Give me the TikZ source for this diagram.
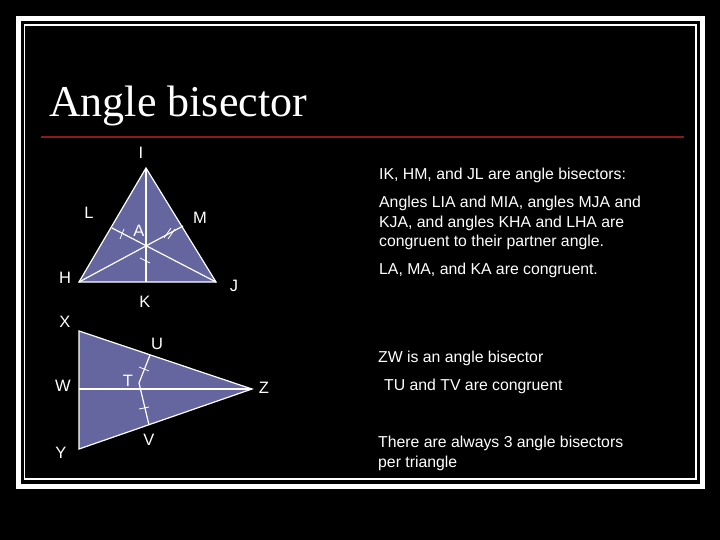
\documentclass[tikz,border=0pt]{standalone}
\usepackage{fontspec}
\setmainfont{Liberation Sans}
\newfontfamily\titlefont{Liberation Serif}
\definecolor{tri}{HTML}{6565A0}
\definecolor{rule}{HTML}{8B1A1A}
\begin{document}
\begin{tikzpicture}[x=1pt,y=-1pt,
  lab/.style={text=white,font=\fontsize{16.5}{16.5}\selectfont,inner sep=0pt},
  txt/.style={text=white,font=\fontsize{15.8}{19.2}\selectfont,inner sep=0pt,anchor=west,align=left},
  edge/.style={draw=white,line width=1.2pt},
  tick/.style={draw=white,line width=0.8pt}]
\fill[black] (0,0) rectangle (720,540);
\useasboundingbox (0,0) rectangle (720,540);
\draw[white,line width=5pt] (18.5,18.5) rectangle (702.5,486);
\draw[white,line width=1.2pt] (24.5,25) rectangle (696,479);
\node[text=white,font=\titlefont\fontsize{44}{44}\selectfont,anchor=base west,inner sep=0pt] (title) at (49,117) {Angle bisector};
\draw[rule,line width=2pt] (41,137) -- (684,137);
% triangle 1
\coordinate (I) at (146,168); \coordinate (H) at (79,282); \coordinate (J) at (216,282);
\coordinate (K) at (146,282); \coordinate (L) at (112,228); \coordinate (M) at (183,226);
\fill[tri] (I) -- (H) -- (J) -- cycle;
\draw[edge] (I) -- (H) -- (J) -- cycle;
\draw[edge] (I) -- (K); \draw[edge] (J) -- (L); \draw[edge] (H) -- (M);
\draw[tick] (120,239) -- (124,229);
\draw[tick] (164,238) -- (171,228); \draw[tick] (168,239) -- (175,229);
\draw[tick] (140,258) -- (150,263);
% triangle 2
\coordinate (X) at (79,331); \coordinate (Y) at (79,449); \coordinate (Z) at (252,389);
\coordinate (W) at (79,389); \coordinate (T) at (139,383); \coordinate (U) at (150,355); \coordinate (V) at (149,425);
\fill[tri] (X) -- (Y) -- (Z) -- cycle;
\draw[edge] (X) -- (Y) -- (Z) -- cycle;
\draw[edge] (W) -- (Z);
\draw[edge] (U) -- (T) -- (V);
\draw[tick] (139,367) -- (149,371);
\draw[tick] (139,409) -- (149,407);
% labels
\node[lab] (lI) at (141,153) {I};
\node[lab] (lL) at (89,213) {L};
\node[lab] (lM) at (200,218) {M};
\node[lab] (lA) at (139,231) {A};
\node[lab] (lH) at (65,278) {H};
\node[lab] (lJ) at (234,286) {J};
\node[lab] (lK) at (145,302) {K};
\node[lab] (lX) at (65,322) {X};
\node[lab] (lU) at (157,344) {U};
\node[lab] (lW) at (63,386) {W};
\node[lab] (lT) at (128,381) {T};
\node[lab] (lZ) at (264,388) {Z};
\node[lab] (lY) at (61,453) {Y};
\node[lab] (lV) at (149,440) {V};
% text
\node[txt] (t1) at (379,175) {IK, HM, and JL are angle bisectors:};
\node[txt] (t2) at (379,223) {Angles LIA and MIA, angles MJA and\\KJA, and angles KHA and LHA are\\congruent to their partner angle.};
\node[txt] (t3) at (379,270) {LA, MA, and KA are congruent.};
\node[txt] (t4) at (378,358) {ZW is an angle bisector};
\node[txt] (t5) at (384,386) {TU and TV are congruent};
\node[txt] (t6) at (378,453.5) {There are always 3 angle bisectors\\per triangle};
\end{tikzpicture}
\end{document}
